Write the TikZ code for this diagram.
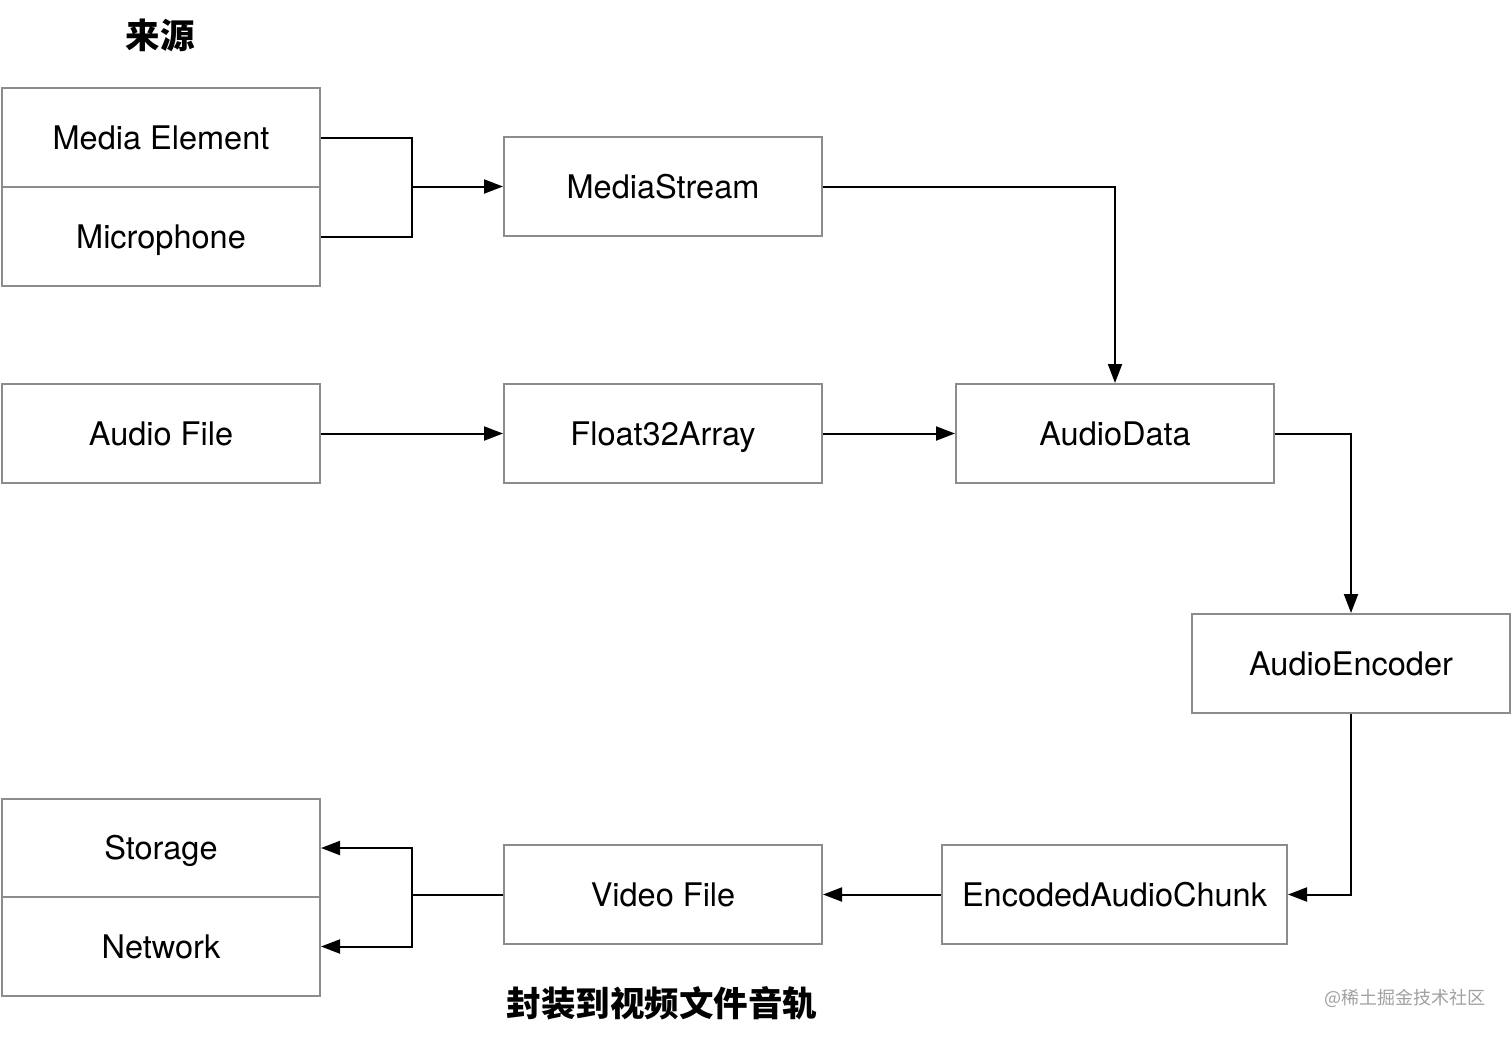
\documentclass[tikz,border=0pt]{standalone}
\usepackage{fontspec}
\setmainfont{TeX Gyre Heros}
\newfontfamily\cjk{Noto Sans CJK SC}
\usetikzlibrary{arrows.meta}
\definecolor{boxgray}{HTML}{8C8C8C}
\definecolor{wmgray}{HTML}{A0A0A0}
\tikzset{
  box/.style={draw=boxgray, line width=2pt, fill=white, minimum width=318pt, minimum height=99pt,
    inner sep=0pt, font=\fontsize{32.5}{32.5}\selectfont, text height=23pt, text depth=0pt},
  conn/.style={draw=black, line width=2pt},
  arr/.style={conn, -{Triangle[length=19pt,width=14pt]}},
  ttl/.style={font=\cjk\bfseries\fontsize{34.5}{34.5}\selectfont},
}
\begin{document}
\begin{tikzpicture}[x=1pt,y=-1pt]
\useasboundingbox (0,0) rectangle (1512,1037);
\node[ttl] (t1) at (160,35) {来源};
\node[ttl] (t2) at (662,1003) {封装到视频文件音轨};
\node[font=\cjk\fontsize{18}{18}\selectfont, text=wmgray] (wm) at (1405,998) {@稀土掘金技术社区};

\node[box] (me) at (161,137.5) {Media Element};
\node[box] (mic) at (161,236.5) {Microphone};
\node[box] (ms) at (663,186.5) {MediaStream};
\node[box] (af) at (161,433.5) {Audio File};
\node[box] (fa) at (663,433.5) {Float32Array};
\node[box] (ad) at (1115,433.5) {AudioData};
\node[box] (ae) at (1351,663.5) {AudioEncoder};
\node[box] (st) at (161,848) {Storage};
\node[box] (nw) at (161,946.5) {Network};
\node[box] (vf) at (663,894.5) {Video File};
\node[box, minimum width=345pt] (eac) at (1114.5,894.5) {EncodedAudioChunk};

\coordinate (j1) at (412,186.5);
\coordinate (j2) at (412,894.5);

\draw[conn] (me.east) -| (j1);
\draw[conn] (mic.east) -| (j1);
\draw[arr] (j1) -- (ms.west);
\draw[arr] (ms.east) -| (ad.north);
\draw[arr] (af) -- (fa);
\draw[arr] (fa) -- (ad);
\draw[arr] (ad.east) -| (ae.north);
\draw[arr] (ae.south) |- (eac.east);
\draw[arr] (eac) -- (vf);
\draw[conn] (vf.west) -- (j2);
\draw[arr] (j2) |- (st.east);
\draw[arr] (j2) |- (nw.east);
\end{tikzpicture}
\end{document}
